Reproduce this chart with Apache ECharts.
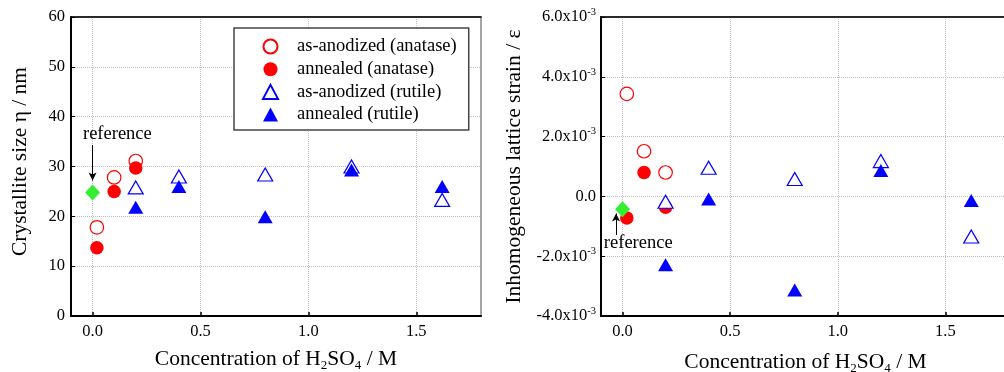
<!DOCTYPE html>
<html><head><meta charset="utf-8">
<script src="https://cdn.jsdelivr.net/npm/echarts@6/dist/echarts.min.js"></script>
<style>html,body{margin:0;padding:0;background:#fff}#c{width:1004px;height:372px}</style>
</head><body><div id="c"></div>
<script>
// Concentrations (M)
const xAnatase = [0.02, 0.1, 0.2];
const xRutile = [0.2, 0.4, 0.8, 1.2, 1.62];
const xReference = [0];
// Crystallite size (nm)
const sizeAsAnodizedAnatase = [17.8, 27.8, 31.1];
const sizeAnnealedAnatase = [13.7, 25.0, 29.7];
const sizeAsAnodizedRutile = [25.8, 28.0, 28.4, 30.0, 23.3];
const sizeAnnealedRutile = [21.8, 26.0, 19.9, 29.3, 26.0];
const sizeReference = [24.8];
// Inhomogeneous lattice strain (x10^-3)
const strainAsAnodizedAnatase = [3.43, 1.51, 0.80];
const strainAnnealedAnatase = [-0.72, 0.80, -0.36];
const strainAsAnodizedRutile = [-0.18, 0.96, 0.58, 1.18, -1.34];
const strainAnnealedRutile = [-2.29, -0.09, -3.13, 0.87, -0.14];
const strainReference = [-0.43];
// Tick values
const xTicks = [0, 0.5, 1.0, 1.5];
const sizeTicks = [0, 10, 20, 30, 40, 50, 60];
const strainTicks = [-4, -2, 0, 2, 4, 6];
const seriesNames = ['as-anodized (anatase)', 'annealed (anatase)', 'as-anodized (rutile)', 'annealed (rutile)'];

const zip = (xs, ys) => xs.map((x, i) => [x, ys[i]]);
const FONT = 'Liberation Serif';
const RED = '#ff0000', BLUE = '#0000ff', GREEN = '#33ee33';
const TICK_FS = 16.5, TITLE_FS = 21.5, TEXT_FS = 18.5;

function xAxisBase(grid, isRight) {
  return {
    type: 'value', gridIndex: grid, min: -0.1, max: 1.8,
    name: '{t|Concentration of H}{s|2}{t|SO}{s|4}{t| / M}',
    nameLocation: 'middle', nameGap: isRight ? 34 : 31,
    nameTextStyle: { rich: {
      t: { fontFamily: FONT, fontSize: TITLE_FS, color: '#000' },
      s: { fontFamily: FONT, fontSize: 13, color: '#000', padding: [12, 0, 0, 0] }
    } },
    axisLine: { show: true, onZero: false, lineStyle: { color: '#000', width: 2 } },
    axisTick: { show: true, inside: true, length: 4, customValues: xTicks, lineStyle: { color: '#000', width: 1.5 } },
    axisLabel: { fontFamily: FONT, fontSize: TICK_FS, color: '#000', margin: 7, customValues: xTicks,
      formatter: v => (+v).toFixed(1) },
    splitLine: { show: true, lineStyle: { type: 'dotted', color: '#c0c0c0', width: 1 } }
  };
}
function topAxis(grid) {
  return { type: 'value', gridIndex: grid, position: 'top', min: -0.1, max: 1.8,
    axisLine: { show: true, onZero: false, lineStyle: { color: '#000', width: 1.5 } },
    axisTick: { show: false }, axisLabel: { show: false }, splitLine: { show: false } };
}

const option = {
  animation: false,
  grid: [
    { left: 71, top: 17, width: 410, height: 299, show: true, borderColor: '#888', borderWidth: 1.5, outerBoundsMode: 'none', containLabel: false },
    { left: 601, top: 17, width: 409, height: 299, show: true, borderColor: '#888', borderWidth: 1.5, outerBoundsMode: 'none', containLabel: false }
  ],
  xAxis: [xAxisBase(0, false), xAxisBase(1, true), topAxis(0), topAxis(1)],
  yAxis: [
    { type: 'value', gridIndex: 0, min: sizeTicks[0], max: sizeTicks[sizeTicks.length - 1], interval: 10,
      name: 'Crystallite size η / nm', nameLocation: 'middle', nameGap: 40,
      nameTextStyle: { fontFamily: FONT, fontSize: TITLE_FS, color: '#000', padding: [0, 0, 0, 10] },
      axisLine: { show: true, onZero: false, lineStyle: { color: '#000', width: 2 } },
      axisTick: { show: true, inside: true, length: 4, lineStyle: { color: '#000' } },
      axisLabel: { fontFamily: FONT, fontSize: TICK_FS, color: '#000', margin: 6 },
      splitLine: { show: true, lineStyle: { type: 'dotted', color: '#c0c0c0', width: 1 } } },
    { type: 'value', gridIndex: 1, min: strainTicks[0], max: strainTicks[strainTicks.length - 1], interval: 2,
      name: 'Inhomogeneous lattice strain / ε', nameLocation: 'middle', nameGap: 76,
      nameTextStyle: { fontFamily: FONT, fontSize: TITLE_FS, color: '#000' },
      axisLine: { show: true, onZero: false, lineStyle: { color: '#000', width: 2 } },
      axisTick: { show: true, inside: true, length: 4, lineStyle: { color: '#000' } },
      axisLabel: { fontFamily: FONT, fontSize: TICK_FS, color: '#000', margin: 5,
        formatter: v => v === 0 ? '{b|0.0}' : '{b|' + v.toFixed(1) + 'x10}{s|-3}',
        rich: { b: { fontFamily: FONT, fontSize: TICK_FS, color: '#000' },
                s: { fontFamily: FONT, fontSize: 10.5, color: '#000', padding: [0, 0, 10, 0] } } },
      splitLine: { show: true, lineStyle: { type: 'dotted', color: '#c0c0c0', width: 1 } } }
  ],
  legend: {
    data: seriesNames, orient: 'vertical', left: 234, top: 28,
    padding: [9, 12, 6, 28], itemGap: 3.7, itemWidth: 15, itemHeight: 14,
    borderColor: '#444', borderWidth: 1.5, backgroundColor: '#fff',
    selectedMode: false,
    textStyle: { fontFamily: FONT, fontSize: TEXT_FS, color: '#000', lineHeight: 14, padding: [0, 0, 0, 14] }
  },
  series: []
};

function mk(name, xi, yi, data, kind) {
  const open = kind.startsWith('open');
  const tri = kind.endsWith('tri');
  const col = tri ? BLUE : RED;
  return { type: 'scatter', name, xAxisIndex: xi, yAxisIndex: yi, data,
    symbol: tri ? 'triangle' : 'circle', symbolSize: tri ? [15, 13] : 13.5,
    itemStyle: open ? { color: '#fff', borderColor: col, borderWidth: 1.2, opacity: 1 } : { color: col, borderWidth: 0, opacity: 1 },
    z: 3 };
}
const groups = [
  [0, 0, [sizeAsAnodizedAnatase, sizeAnnealedAnatase, sizeAsAnodizedRutile, sizeAnnealedRutile]],
  [1, 1, [strainAsAnodizedAnatase, strainAnnealedAnatase, strainAsAnodizedRutile, strainAnnealedRutile]]
];
const kinds = ['open-circ', 'fill-circ', 'open-tri', 'fill-tri'];
groups.forEach(([xi, yi, sets]) => {
  sets.forEach((ys, k) => {
    const xs = k < 2 ? xAnatase : xRutile;
    option.series.push(mk(seriesNames[k], xi, yi, zip(xs, ys), kinds[k]));
  });
});
const refAnno = [
  { xi: 0, yi: 0, ys: sizeReference, arrow: [[0, 34.3], [0, 27.2]], text: [[0.115, 36.5]] },
  { xi: 1, yi: 1, ys: strainReference, arrow: [[-0.03, -1.29], [-0.03, -0.57]], text: [[0.073, -1.55]] }
];
refAnno.forEach(r => {
  option.series.push({ type: 'scatter', name: 'reference', xAxisIndex: r.xi, yAxisIndex: r.yi,
    data: zip(xReference, r.ys), symbol: 'diamond', symbolSize: [15, 16],
    itemStyle: { color: GREEN, opacity: 1 }, z: 5,
    markLine: { silent: true, symbol: ['none', 'arrow'], symbolSize: [6, 8],
      lineStyle: { color: '#000', width: 1, type: 'solid' }, label: { show: false },
      data: [[{ coord: r.arrow[0] }, { coord: r.arrow[1] }]] }
  });
  option.series.push({ type: 'scatter', name: 'reference-label', xAxisIndex: r.xi, yAxisIndex: r.yi,
    data: r.text, symbolSize: 0, silent: true, z: 6, itemStyle: { opacity: 1 },
    label: { show: true, formatter: 'reference', position: 'inside', fontFamily: FONT, fontSize: TEXT_FS, color: '#000', opacity: 1 } });
});

const chart = echarts.init(document.getElementById('c'), null, { renderer: 'canvas' });
chart.setOption(option);
</script></body></html>
